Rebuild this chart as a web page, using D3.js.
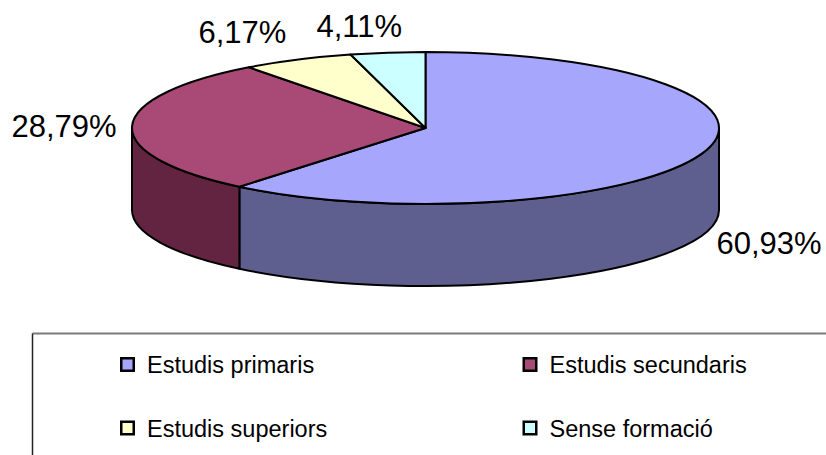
<!DOCTYPE html>
<html>
<head>
<meta charset="utf-8">
<script src="https://cdn.jsdelivr.net/npm/d3@7/dist/d3.min.js"></script>
<style>
  html, body { margin: 0; padding: 0; background: #fff; }
  svg { display: block; font-family: "Liberation Sans", Arial, sans-serif; }
</style>
</head>
<body>
<svg id="chart" width="826" height="455"></svg>
<script>
// Data
const categories = ["Estudis primaris", "Estudis secundaris", "Estudis superiors", "Sense formació"];
const values = [60.93, 28.79, 6.17, 4.11];
const topColors = ["#A6A6FD", "#A84A75", "#FFFFCC", "#CCFFFF"];
const sideColors = ["#5F5F8F", "#632441", "#99997A", "#7A9999"];

// Layout of the tilted pie
const cx = 425.5, cy = 128, rx = 293.5, ry = 76, depth = 82;
// Label anchors (text start, baseline), relative to the pie centre
const labelOffsets = [[291, 126], [-414, 9], [-227, -85], [-109, -91]];

const svg = d3.select("#chart");
const fmt = v => d3.format(".2f")(v).replace(".", ",") + "%";

const pie = d3.pie().sort(null).value(d => d)(values);

// Point on the top ellipse at angle a (radians, clockwise from 12 o'clock)
const pt = (a, dy = 0) => [cx + rx * Math.sin(a), cy - ry * Math.cos(a) + dy];

// Visible front wall (angles between 90° and 270°)
const frontFrom = Math.PI / 2, frontTo = 3 * Math.PI / 2;
const gSides = svg.append("g");
pie.forEach((s, i) => {
  const a0 = Math.max(s.startAngle, frontFrom);
  const a1 = Math.min(s.endAngle, frontTo);
  if (a1 <= a0) return;
  const p0 = pt(a0), p1 = pt(a1), q1 = pt(a1, depth), q0 = pt(a0, depth);
  const d = `M${p0}A${rx},${ry} 0 0 1 ${p1}L${q1}A${rx},${ry} 0 0 0 ${q0}Z`;
  gSides.append("path")
    .attr("d", d)
    .attr("fill", sideColors[i])
    .attr("stroke", "#000")
    .attr("stroke-width", 2)
    .attr("stroke-linejoin", "round");
});

// Top faces
const gTop = svg.append("g");
pie.forEach((s, i) => {
  const p0 = pt(s.startAngle), p1 = pt(s.endAngle);
  const large = (s.endAngle - s.startAngle) > Math.PI ? 1 : 0;
  const d = `M${cx},${cy}L${p0}A${rx},${ry} 0 ${large} 1 ${p1}Z`;
  gTop.append("path")
    .attr("d", d)
    .attr("fill", topColors[i])
    .attr("stroke", "#000")
    .attr("stroke-width", 2)
    .attr("stroke-linejoin", "round");
});

// Percentage labels
svg.append("g").selectAll("text")
  .data(pie)
  .join("text")
  .attr("x", (d, i) => cx + labelOffsets[i][0])
  .attr("y", (d, i) => cy + labelOffsets[i][1])
  .attr("font-size", 31)
  .attr("fill", "#000")
  .text(d => fmt(d.data));

// Legend frame (runs past the right and bottom edges)
const legend = svg.append("g");
legend.append("line").attr("x1", 32.5).attr("y1", 333.5).attr("x2", 826).attr("y2", 333.5)
  .attr("stroke", "#7a7a7a").attr("stroke-width", 2);
legend.append("line").attr("x1", 32.5).attr("y1", 333.5).attr("x2", 32.5).attr("y2", 455)
  .attr("stroke", "#222").attr("stroke-width", 1.5);

const colX = [127.5, 530], rowY = [364.5, 428];
const items = legend.selectAll("g.item")
  .data(categories)
  .join("g")
  .attr("class", "item")
  .attr("transform", (d, i) => `translate(${colX[i % 2]},${rowY[Math.floor(i / 2)]})`);
items.append("rect")
  .attr("x", -6.25).attr("y", -6.25).attr("width", 12.5).attr("height", 12.5)
  .attr("fill", (d, i) => topColors[i])
  .attr("stroke", "#000").attr("stroke-width", 2.5);
items.append("text")
  .attr("x", 19.5).attr("y", 8.5)
  .attr("font-size", 23.5)
  .attr("fill", "#000")
  .text(d => d);
</script>
</body>
</html>
